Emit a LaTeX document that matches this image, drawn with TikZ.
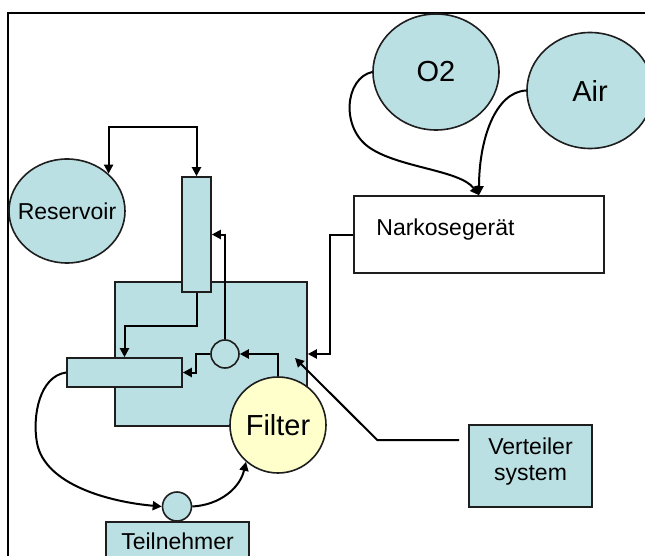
\documentclass[tikz,border=0pt]{standalone}
\usepackage{fontspec}
\setmainfont{Liberation Sans}
\usetikzlibrary{arrows.meta,shapes.geometric,calc}
\definecolor{teal1}{RGB}{187,224,227}
\definecolor{filt}{RGB}{255,255,204}
\definecolor{edge}{RGB}{30,30,30}
\begin{document}
\begin{tikzpicture}[x=1pt,y=-1pt,
  shp/.style={draw=edge, line width=1.6pt, fill=teal1, inner sep=0pt},
  ell/.style={shp, ellipse},
  box/.style={shp, rectangle},
  circ/.style={shp, circle},
  arr/.style={draw=black, line width=2pt, -{Triangle[length=9pt,width=9pt]}},
  arrboth/.style={draw=black, line width=2pt, {Triangle[length=9pt,width=9pt]}-{Triangle[length=9pt,width=9pt]}},
  small/.style={font=\fontsize{23}{26}\selectfont},
  big/.style={font=\fontsize{29}{33}\selectfont},
]
\useasboundingbox (0,0) rectangle (645,556);
\clip (0,0) rectangle (645,556);
\fill[white] (0,0) rectangle (645,556);

% frame
\draw[line width=1.5pt] (8,600) -- (8,13) -- (700,13);

% nodes
\node[ell, minimum width=126pt, minimum height=116pt, big] (o2) at (436,72) {O2};
\node[ell, minimum width=126pt, minimum height=116pt, big] (air) at (590,90.5) {Air};
\node[box, fill=white, minimum width=250pt, minimum height=77pt] (narko) at (479,234.5) {};
\node[small, anchor=west, inner sep=0pt] (narkotxt) at ([xshift=23pt,yshift=5pt]narko.west) {Narkosegerät};
\node[ell, minimum width=116pt, minimum height=104pt, small] (res) at (67,211) {\makebox[0pt]{Reservoir}};
\node[box, minimum width=192pt, minimum height=144pt] (sq) at (211,354) {};
\node[box, minimum width=29pt, minimum height=115pt] (vrect) at (196.5,234.5) {};
\node[box, minimum width=115pt, minimum height=29pt] (hrect) at (124.5,372.5) {};
\node[circ, minimum size=28pt] (valve) at (225,354) {};
\node[circ, fill=filt, minimum size=96pt, big] (filter) at (278,425) {Filter};
\node[circ, minimum size=29pt] (tcirc) at (177,506.5) {};
\node[box, minimum width=143pt, minimum height=38pt, small] (teil) at (177.5,541) {Teilnehmer};
\node[box, minimum width=123pt, minimum height=82pt] (vert) at (530.5,466) {};
\node[small, align=center, inner sep=0pt] (verttxt) at ([yshift=4pt]vert.center) {Verteiler\\system};

% connectors
\draw[arrboth] (res.north east) |- ([yshift=49pt]vrect.north) -- (vrect.north);
\draw[arr] (vrect.south) -- ++(0,33) -| (hrect.north);
\draw[arr] (valve.north) |- (vrect.east);
\draw[arr] (valve.west) -- ++(-14,0) |- (hrect.east);
\draw[arr] (filter.north) |- (valve.east);
\draw[arr] (narko.west) -- ++(-23,0) |- (sq.east);
\coordinate (vtip) at (295,358);
\draw[arr, shorten <=9pt] ([yshift=26pt]vert.west) -- ++(-91,0) -- (vtip);
\draw[arr] (o2.west) .. controls (345,78) and (340,128) .. (370,148) .. controls (400,168) and (460,170) .. (narko.north);
\draw[arr] (air.west) .. controls (495,92) and (479,140) .. (narko.north);
\draw[arr] (hrect.west) .. controls (40,376) and (32,415) .. (37,443) .. controls (45,485) and (110,502) .. (tcirc.west);
\draw[arr] (tcirc.east) .. controls (220,505) and (240,488) .. (filter.229);
\end{tikzpicture}
\end{document}
